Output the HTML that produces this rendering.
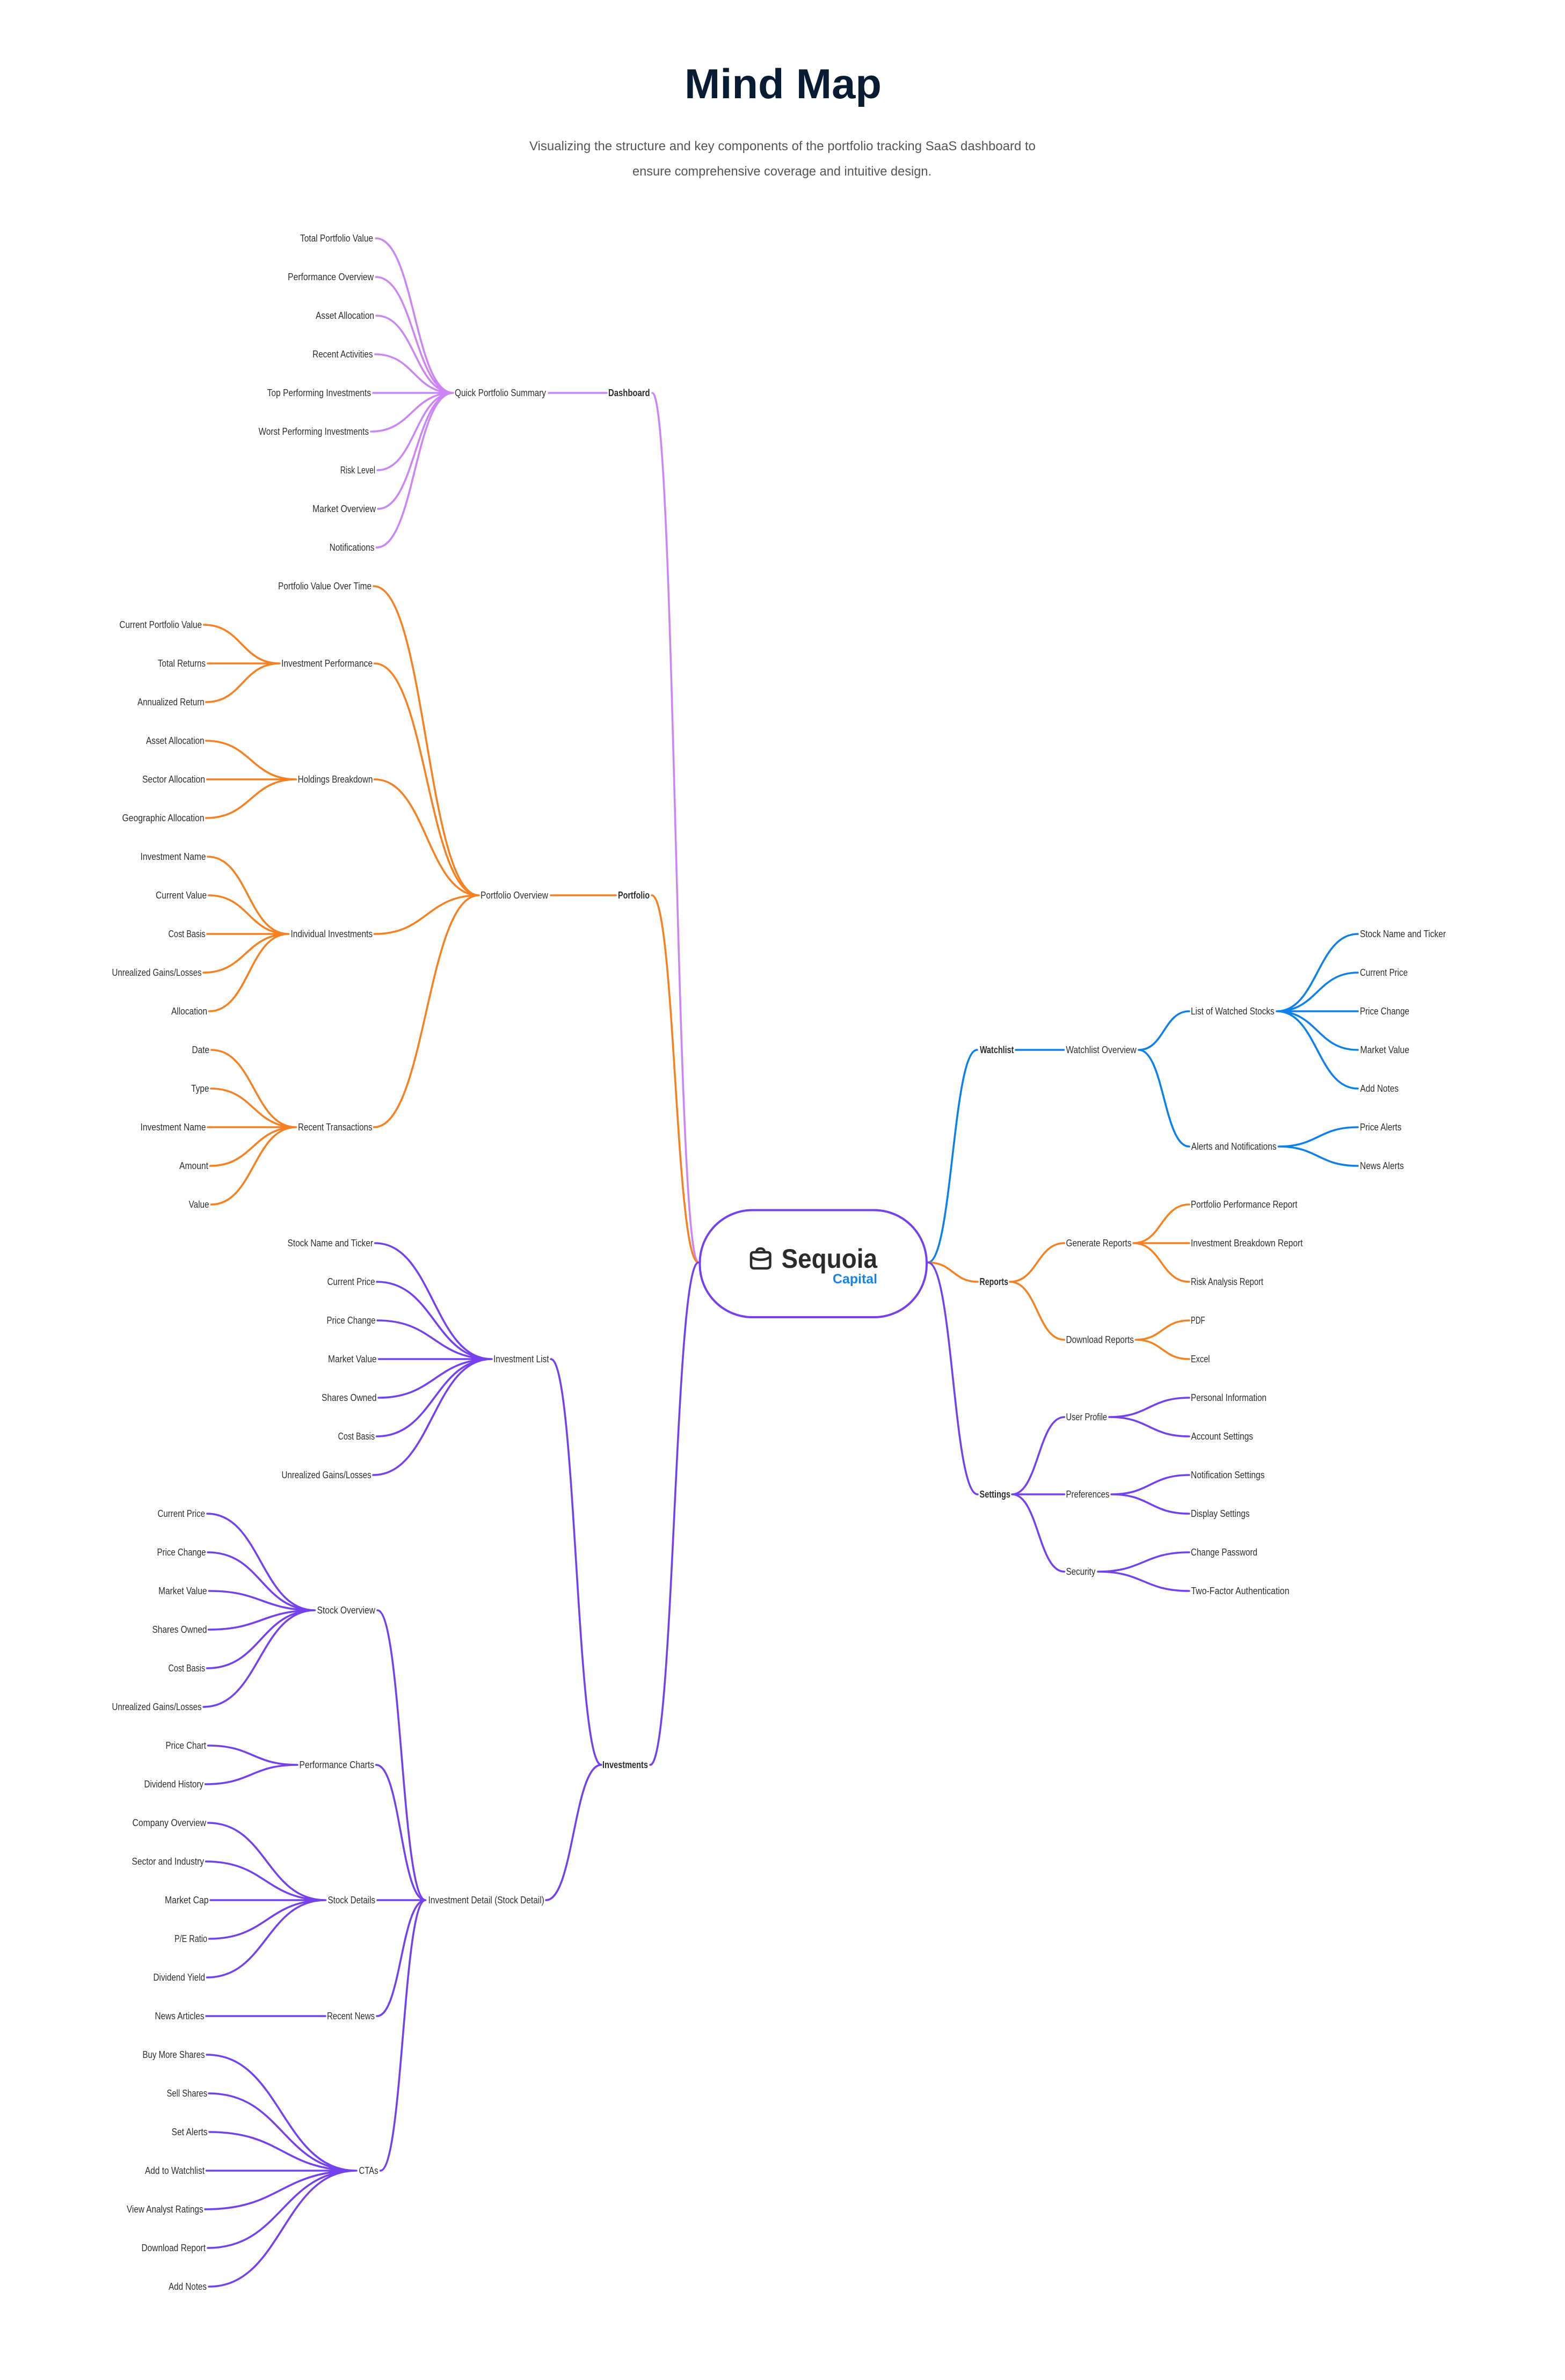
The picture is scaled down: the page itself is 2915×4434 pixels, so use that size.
<!DOCTYPE html>
<html lang="en">
<head>
<meta charset="utf-8">
<title>Mind Map</title>
<style>
html,body{margin:0;padding:0;background:#fff}
svg{display:block}
text{font-family:"Liberation Sans",sans-serif;font-size:18px;fill:#2e2e2e}
text.b{font-weight:700}
path.l{fill:none;stroke-width:3.6;stroke-linecap:round}
.c1{stroke:#cb85f6}.c2{stroke:#f58122}.c3{stroke:#7540ee}.c4{stroke:#0d80ea}
</style>
</head>
<body>
<svg xmlns="http://www.w3.org/2000/svg" width="2915" height="4434" viewBox="0 0 2915 4434">
<rect width="2915" height="4434" fill="#fff"/>
<text x="1275" y="183" textLength="367" lengthAdjust="spacingAndGlyphs" style="font-size:78px;font-weight:700;fill:#071b33">Mind Map</text>
<text x="986" y="280" textLength="943" lengthAdjust="spacingAndGlyphs" style="font-size:24px;fill:#555">Visualizing the structure and key components of the portfolio tracking SaaS dashboard to</text>
<text x="1178" y="327" textLength="557" lengthAdjust="spacingAndGlyphs" style="font-size:24px;fill:#555">ensure comprehensive coverage and intuitive design.</text>

<!-- Dashboard connectors -->
<path class="l c1" d="M700 444C772 444 772 732 844 732M700 516C772 516 772 732 844 732M701 588C772.5 588 772.5 732 844 732M698.6 660C771.3 660 771.3 732 844 732M695 732L844 732M691 804C767.5 804 767.5 732 844 732M703 876C773.5 876 773.5 732 844 732M704 948C774 948 774 732 844 732M701.4 1020C772.7 1020 772.7 732 844 732M1022 732L1130 732M1215 732C1258 732 1258 2352 1301 2352"/>

<!-- Portfolio connectors -->
<path class="l c2" d="M696 1092C794 1092 794 1668 892 1668M697.5 1236C795 1236 795 1668 892 1668M697.5 1452C795 1452 795 1668 892 1668M697.5 1740C795 1740 795 1668 892 1668M696.5 2100C794 2100 794 1668 892 1668M379.6 1164C450 1164 450 1236 521 1236M387 1236L521 1236M383.7 1308C452 1308 452 1236 521 1236M383.7 1380C467.5 1380 467.5 1452 551.5 1452M385.7 1452L551.5 1452M383.7 1524C467.5 1524 467.5 1452 551.5 1452M387 1596C462 1596 462 1740 537.5 1740M388.5 1668C463 1668 463 1740 537.5 1740M386 1740L537.5 1740M379 1812C458 1812 458 1740 537.5 1740M389.5 1884C463.5 1884 463.5 1740 537.5 1740M394 1956C473 1956 473 2100 551.5 2100M393 2028C472 2028 472 2100 551.5 2100M387 2100L551.5 2100M391.5 2172C471.5 2172 471.5 2100 551.5 2100M393.5 2244C472.5 2244 472.5 2100 551.5 2100M1026 1668L1147 1668M1214 1668C1257.5 1668 1257.5 2352 1301 2352"/>

<!-- Investments connectors -->
<path class="l c3" d="M698.5 2316C807 2316 807 2532 916 2532M702 2388C809 2388 809 2532 916 2532M703 2460C809.5 2460 809.5 2532 916 2532M705.5 2532L916 2532M705 2604C810.5 2604 810.5 2532 916 2532M701.5 2676C809 2676 809 2532 916 2532M695 2748C805.5 2748 805.5 2532 916 2532M1026 2532C1073 2532 1073 3288 1120 3288M386 2820C486 2820 486 3000 586.5 3000M387 2892C487 2892 487 3000 586.5 3000M389.5 2964C488 2964 488 3000 586.5 3000M388.5 3036C487.5 3036 487.5 3000 586.5 3000M385.5 3108C486 3108 486 3000 586.5 3000M379 3180C483 3180 483 3000 586.5 3000M387.5 3252C471 3252 471 3288 554 3288M382.5 3324C468 3324 468 3288 554 3288M387.5 3396C497 3396 497 3540 606.5 3540M383.5 3468C495 3468 495 3540 606.5 3540M392 3540L606.5 3540M389.5 3612C498 3612 498 3540 606.5 3540M385.5 3684C496 3684 496 3540 606.5 3540M384 3756L606 3756M385 3828C524.5 3828 524.5 4044 664 4044M389 3900C526.5 3900 526.5 4044 664 4044M390 3972C527 3972 527 4044 664 4044M384.5 4044L664 4044M382 4116C523 4116 523 4044 664 4044M387 4188C525.5 4188 525.5 4044 664 4044M389 4260C526.5 4260 526.5 4044 664 4044M703 3000C748 3000 748 3540 792.5 3540M700.5 3288C746.5 3288 746.5 3540 792.5 3540M703 3540L792.5 3540M702 3756C747 3756 747 3540 792.5 3540M708.5 4044C750.5 4044 750.5 3540 792.5 3540M1017 3540C1068.5 3540 1068.5 3288 1120 3288M1211 3288C1256 3288 1256 2352 1301 2352"/>

<!-- Watchlist connectors -->
<path class="l c4" d="M1728.5 2352C1774 2352 1774 1956 1820 1956M1892 1956L1981.5 1956M2121 1956C2168 1956 2168 1884 2215 1884M2121 1956C2168 1956 2168 2136 2215 2136M2378 1884C2453.5 1884 2453.5 1740 2529 1740M2378 1884C2453.5 1884 2453.5 1812 2529 1812M2378 1884L2529 1884M2378 1884C2453.5 1884 2453.5 1956 2529 1956M2378 1884C2453.5 1884 2453.5 2028 2529 2028M2381.4 2136C2455 2136 2455 2100 2529 2100M2381.4 2136C2455 2136 2455 2172 2529 2172"/>

<!-- Reports connectors -->
<path class="l c2" d="M1728.5 2352C1775 2352 1775 2388 1821 2388M1881 2388C1932 2388 1932 2316 1982.5 2316M1881 2388C1932 2388 1932 2496 1982.5 2496M2111 2316C2163 2316 2163 2244 2215 2244M2111 2316L2215 2316M2111 2316C2163 2316 2163 2388 2215 2388M2115.5 2496C2165 2496 2165 2460 2215 2460M2115.5 2496C2165 2496 2165 2532 2215 2532"/>

<!-- Settings connectors -->
<path class="l c3" d="M1728.5 2352C1775 2352 1775 2784 1821 2784M1885 2784C1934 2784 1934 2640 1982.5 2640M1885 2784L1982.5 2784M1885 2784C1934 2784 1934 2928 1982.5 2928M2066 2640C2140.5 2640 2140.5 2604 2215 2604M2066 2640C2140.5 2640 2140.5 2676 2215 2676M2070 2784C2142.5 2784 2142.5 2748 2215 2748M2070 2784C2142.5 2784 2142.5 2820 2215 2820M2045 2928C2130 2928 2130 2892 2215 2892M2045 2928C2130 2928 2130 2964 2215 2964"/>

<!-- Center node -->
<rect x="1303.5" y="2254.5" width="422.5" height="199.5" rx="98" ry="98" fill="#fff" stroke="#7540ee" stroke-width="4"/>
<g fill="none" stroke="#2b2b2b" stroke-width="4.5" stroke-linecap="round" stroke-linejoin="round">
<path d="M1404 2333L1429 2333C1433 2333 1434.5 2335 1434.5 2338L1434.5 2357C1434.5 2361 1432 2363 1428 2363L1405 2363C1401 2363 1399 2361 1399 2357L1399 2338C1399 2335 1400 2333 1404 2333Z"/>
<path d="M1399 2341C1406 2349 1427 2349 1434.5 2341"/>
<path d="M1409 2332C1410 2327 1413 2326 1416.5 2326C1420 2326 1423 2327 1424 2332"/>
</g>
<text x="1455.5" y="2362" textLength="178.5" lengthAdjust="spacingAndGlyphs" style="font-size:50px;font-weight:700;fill:#2b2b2b">Sequoia</text>
<text x="1551" y="2391" textLength="83" lengthAdjust="spacingAndGlyphs" style="font-size:25px;font-weight:700;fill:#1583e9">Capital</text>

<g transform="translate(0,-1)">
<!-- Dashboard labels -->
<text x="559" y="451" textLength="136" lengthAdjust="spacingAndGlyphs">Total Portfolio Value</text>
<text x="536" y="523" textLength="160" lengthAdjust="spacingAndGlyphs">Performance Overview</text>
<text x="588" y="595" textLength="109" lengthAdjust="spacingAndGlyphs">Asset Allocation</text>
<text x="582" y="667" textLength="112.5" lengthAdjust="spacingAndGlyphs">Recent Activities</text>
<text x="497.6" y="739" textLength="193.4" lengthAdjust="spacingAndGlyphs">Top Performing Investments</text>
<text x="481.6" y="811" textLength="205.4" lengthAdjust="spacingAndGlyphs">Worst Performing Investments</text>
<text x="633.7" y="883" textLength="65.3" lengthAdjust="spacingAndGlyphs">Risk Level</text>
<text x="582" y="955" textLength="118" lengthAdjust="spacingAndGlyphs">Market Overview</text>
<text x="613.6" y="1027" textLength="83.8" lengthAdjust="spacingAndGlyphs">Notifications</text>
<text x="847" y="739" textLength="170" lengthAdjust="spacingAndGlyphs">Quick Portfolio Summary</text>
<text class="b" x="1133" y="739" textLength="77.6" lengthAdjust="spacingAndGlyphs">Dashboard</text>

<!-- Portfolio labels -->
<text x="518" y="1099" textLength="174" lengthAdjust="spacingAndGlyphs">Portfolio Value Over Time</text>
<text x="222.4" y="1171" textLength="153.6" lengthAdjust="spacingAndGlyphs">Current Portfolio Value</text>
<text x="294" y="1243" textLength="89" lengthAdjust="spacingAndGlyphs">Total Returns</text>
<text x="256" y="1315" textLength="124.6" lengthAdjust="spacingAndGlyphs">Annualized Return</text>
<text x="272" y="1387" textLength="108.6" lengthAdjust="spacingAndGlyphs">Asset Allocation</text>
<text x="265" y="1459" textLength="117" lengthAdjust="spacingAndGlyphs">Sector Allocation</text>
<text x="227.5" y="1531" textLength="153" lengthAdjust="spacingAndGlyphs">Geographic Allocation</text>
<text x="261.5" y="1603" textLength="122" lengthAdjust="spacingAndGlyphs">Investment Name</text>
<text x="290" y="1675" textLength="95" lengthAdjust="spacingAndGlyphs">Current Value</text>
<text x="313.5" y="1747" textLength="69" lengthAdjust="spacingAndGlyphs">Cost Basis</text>
<text x="208.5" y="1819" textLength="167" lengthAdjust="spacingAndGlyphs">Unrealized Gains/Losses</text>
<text x="319" y="1891" textLength="67" lengthAdjust="spacingAndGlyphs">Allocation</text>
<text x="357.5" y="1963" textLength="32.5" lengthAdjust="spacingAndGlyphs">Date</text>
<text x="356" y="2035" textLength="33.5" lengthAdjust="spacingAndGlyphs">Type</text>
<text x="261.5" y="2107" textLength="122" lengthAdjust="spacingAndGlyphs">Investment Name</text>
<text x="334" y="2179" textLength="54" lengthAdjust="spacingAndGlyphs">Amount</text>
<text x="351.5" y="2251" textLength="38" lengthAdjust="spacingAndGlyphs">Value</text>
<text x="524" y="1243" textLength="170" lengthAdjust="spacingAndGlyphs">Investment Performance</text>
<text x="554.6" y="1459" textLength="139.8" lengthAdjust="spacingAndGlyphs">Holdings Breakdown</text>
<text x="541.5" y="1747" textLength="152.5" lengthAdjust="spacingAndGlyphs">Individual Investments</text>
<text x="555" y="2107" textLength="138.5" lengthAdjust="spacingAndGlyphs">Recent Transactions</text>
<text x="895" y="1675" textLength="126" lengthAdjust="spacingAndGlyphs">Portfolio Overview</text>
<text class="b" x="1151" y="1675" textLength="59" lengthAdjust="spacingAndGlyphs">Portfolio</text>

<!-- Investments labels -->
<text x="535.5" y="2323" textLength="159.5" lengthAdjust="spacingAndGlyphs">Stock Name and Ticker</text>
<text x="609.5" y="2395" textLength="89" lengthAdjust="spacingAndGlyphs">Current Price</text>
<text x="608.5" y="2467" textLength="91" lengthAdjust="spacingAndGlyphs">Price Change</text>
<text x="611" y="2539" textLength="90.5" lengthAdjust="spacingAndGlyphs">Market Value</text>
<text x="599" y="2611" textLength="102.5" lengthAdjust="spacingAndGlyphs">Shares Owned</text>
<text x="629.5" y="2683" textLength="68.5" lengthAdjust="spacingAndGlyphs">Cost Basis</text>
<text x="524.5" y="2755" textLength="167" lengthAdjust="spacingAndGlyphs">Unrealized Gains/Losses</text>
<text x="919" y="2539" textLength="103.5" lengthAdjust="spacingAndGlyphs">Investment List</text>
<text x="293.5" y="2827" textLength="88.5" lengthAdjust="spacingAndGlyphs">Current Price</text>
<text x="292.5" y="2899" textLength="91" lengthAdjust="spacingAndGlyphs">Price Change</text>
<text x="295" y="2971" textLength="90.5" lengthAdjust="spacingAndGlyphs">Market Value</text>
<text x="283.5" y="3043" textLength="102" lengthAdjust="spacingAndGlyphs">Shares Owned</text>
<text x="313.5" y="3115" textLength="68.5" lengthAdjust="spacingAndGlyphs">Cost Basis</text>
<text x="208.5" y="3187" textLength="167" lengthAdjust="spacingAndGlyphs">Unrealized Gains/Losses</text>
<text x="590.5" y="3007" textLength="108.5" lengthAdjust="spacingAndGlyphs">Stock Overview</text>
<text x="308.5" y="3259" textLength="75.5" lengthAdjust="spacingAndGlyphs">Price Chart</text>
<text x="268.5" y="3331" textLength="110.5" lengthAdjust="spacingAndGlyphs">Dividend History</text>
<text x="557.5" y="3295" textLength="139.5" lengthAdjust="spacingAndGlyphs">Performance Charts</text>
<text x="246.5" y="3403" textLength="137.5" lengthAdjust="spacingAndGlyphs">Company Overview</text>
<text x="245.5" y="3475" textLength="134.5" lengthAdjust="spacingAndGlyphs">Sector and Industry</text>
<text x="307" y="3547" textLength="81.5" lengthAdjust="spacingAndGlyphs">Market Cap</text>
<text x="325" y="3619" textLength="61" lengthAdjust="spacingAndGlyphs">P/E Ratio</text>
<text x="285.5" y="3691" textLength="96.5" lengthAdjust="spacingAndGlyphs">Dividend Yield</text>
<text x="610.5" y="3547" textLength="88.5" lengthAdjust="spacingAndGlyphs">Stock Details</text>
<text x="288.5" y="3763" textLength="92" lengthAdjust="spacingAndGlyphs">News Articles</text>
<text x="609" y="3763" textLength="89" lengthAdjust="spacingAndGlyphs">Recent News</text>
<text x="265.5" y="3835" textLength="116" lengthAdjust="spacingAndGlyphs">Buy More Shares</text>
<text x="310.5" y="3907" textLength="75.5" lengthAdjust="spacingAndGlyphs">Sell Shares</text>
<text x="319.5" y="3979" textLength="67" lengthAdjust="spacingAndGlyphs">Set Alerts</text>
<text x="270" y="4051" textLength="111" lengthAdjust="spacingAndGlyphs">Add to Watchlist</text>
<text x="236" y="4123" textLength="142.5" lengthAdjust="spacingAndGlyphs">View Analyst Ratings</text>
<text x="263.5" y="4195" textLength="119.5" lengthAdjust="spacingAndGlyphs">Download Report</text>
<text x="314" y="4267" textLength="71" lengthAdjust="spacingAndGlyphs">Add Notes</text>
<text x="668.5" y="4051" textLength="36" lengthAdjust="spacingAndGlyphs">CTAs</text>
<text x="797.5" y="3547" textLength="216.3" lengthAdjust="spacingAndGlyphs">Investment Detail (Stock Detail)</text>
<text class="b" x="1122" y="3295" textLength="85" lengthAdjust="spacingAndGlyphs">Investments</text>

<!-- Watchlist labels -->
<text class="b" x="1825" y="1963" textLength="63.4" lengthAdjust="spacingAndGlyphs">Watchlist</text>
<text x="1985.4" y="1963" textLength="131.3" lengthAdjust="spacingAndGlyphs">Watchlist Overview</text>
<text x="2218" y="1891" textLength="155.7" lengthAdjust="spacingAndGlyphs">List of Watched Stocks</text>
<text x="2218.8" y="2143" textLength="158.8" lengthAdjust="spacingAndGlyphs">Alerts and Notifications</text>
<text x="2533" y="1747" textLength="160" lengthAdjust="spacingAndGlyphs">Stock Name and Ticker</text>
<text x="2533" y="1819" textLength="89" lengthAdjust="spacingAndGlyphs">Current Price</text>
<text x="2533" y="1891" textLength="92" lengthAdjust="spacingAndGlyphs">Price Change</text>
<text x="2533.5" y="1963" textLength="91.5" lengthAdjust="spacingAndGlyphs">Market Value</text>
<text x="2533.5" y="2035" textLength="71.5" lengthAdjust="spacingAndGlyphs">Add Notes</text>
<text x="2533" y="2107" textLength="77.4" lengthAdjust="spacingAndGlyphs">Price Alerts</text>
<text x="2533" y="2179" textLength="81.8" lengthAdjust="spacingAndGlyphs">News Alerts</text>

<!-- Reports labels -->
<text class="b" x="1824.5" y="2395" textLength="53.5" lengthAdjust="spacingAndGlyphs">Reports</text>
<text x="1985.5" y="2323" textLength="122" lengthAdjust="spacingAndGlyphs">Generate Reports</text>
<text x="1985.5" y="2503" textLength="126.5" lengthAdjust="spacingAndGlyphs">Download Reports</text>
<text x="2218" y="2251" textLength="198.5" lengthAdjust="spacingAndGlyphs">Portfolio Performance Report</text>
<text x="2218" y="2323" textLength="208.5" lengthAdjust="spacingAndGlyphs">Investment Breakdown Report</text>
<text x="2218" y="2395" textLength="135" lengthAdjust="spacingAndGlyphs">Risk Analysis Report</text>
<text x="2218" y="2467" textLength="26.5" lengthAdjust="spacingAndGlyphs">PDF</text>
<text x="2218" y="2539" textLength="35.5" lengthAdjust="spacingAndGlyphs">Excel</text>

<!-- Settings labels -->
<text class="b" x="1824.5" y="2791" textLength="57.5" lengthAdjust="spacingAndGlyphs">Settings</text>
<text x="1985.5" y="2647" textLength="76.5" lengthAdjust="spacingAndGlyphs">User Profile</text>
<text x="1985.5" y="2791" textLength="81" lengthAdjust="spacingAndGlyphs">Preferences</text>
<text x="1985.5" y="2935" textLength="55" lengthAdjust="spacingAndGlyphs">Security</text>
<text x="2218" y="2611" textLength="141" lengthAdjust="spacingAndGlyphs">Personal Information</text>
<text x="2218.5" y="2683" textLength="115.5" lengthAdjust="spacingAndGlyphs">Account Settings</text>
<text x="2218" y="2755" textLength="137.5" lengthAdjust="spacingAndGlyphs">Notification Settings</text>
<text x="2218" y="2827" textLength="109.5" lengthAdjust="spacingAndGlyphs">Display Settings</text>
<text x="2218" y="2899" textLength="124" lengthAdjust="spacingAndGlyphs">Change Password</text>
<text x="2218.5" y="2971" textLength="183" lengthAdjust="spacingAndGlyphs">Two-Factor Authentication</text>
</g>
</svg>
</body>
</html>
